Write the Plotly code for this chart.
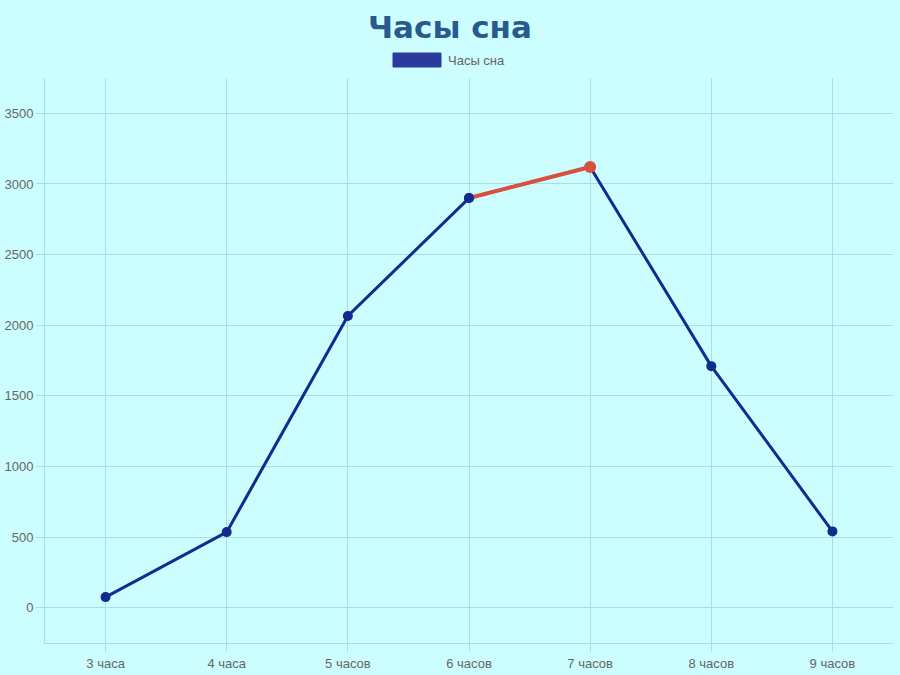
import plotly.graph_objects as go

categories = ["3 часа", "4 часа", "5 часов", "6 часов", "7 часов", "8 часов", "9 часов"]
values = [75, 535, 2065, 2900, 3120, 1710, 540]
highlight_from = 3  # segment 6 -> 7 highlighted
y_ticks = [0, 500, 1000, 1500, 2000, 2500, 3000, 3500]
title_text = "Часы сна"
series_name = "Часы сна"

bg = "#ccfdff"
grid = "#a9dfe3"
line_color = "#132a8f"
hl_color = "#d9503f"

fig = go.Figure()
fig.add_trace(go.Scatter(
    x=categories, y=values, mode="lines+markers", name=series_name,
    line=dict(color=line_color, width=3),
    marker=dict(color=line_color, size=10),
    showlegend=False,
))
fig.add_trace(go.Scatter(
    x=categories[highlight_from:highlight_from + 2],
    y=values[highlight_from:highlight_from + 2],
    mode="lines", line=dict(color=hl_color, width=4), showlegend=False,
))
fig.add_trace(go.Scatter(
    x=[categories[highlight_from]], y=[values[highlight_from]],
    mode="markers", marker=dict(color=line_color, size=10), showlegend=False,
))
fig.add_trace(go.Scatter(
    x=[categories[highlight_from + 1]], y=[values[highlight_from + 1]],
    mode="markers", marker=dict(color=hl_color, size=12), showlegend=False,
))

axis_font = dict(family="Liberation Sans, Arial", size=13, color="#666666")
fig.update_layout(
    width=900, height=675,
    paper_bgcolor=bg, plot_bgcolor=bg,
    margin=dict(l=45, r=7, t=78, b=32),
    title=dict(text="<b>" + title_text + "</b>", x=0.5, xanchor="center", y=0.96, yanchor="middle",
               font=dict(family="DejaVu Sans", size=31, color="#285a8c")),
    xaxis=dict(type="category", range=[-0.5, 6.5], showgrid=True, gridcolor=grid, gridwidth=1,
               ticks="outside", ticklen=8, tickcolor=grid, showline=True, linecolor=grid,
               tickfont=axis_font, zeroline=False, fixedrange=True, automargin=False),
    yaxis=dict(range=[-250, 3750], tickvals=y_ticks, showgrid=True, gridcolor=grid, gridwidth=1,
               ticks="outside", ticklen=8, tickcolor=grid, showline=True, linecolor=grid,
               tickfont=axis_font, zeroline=False, fixedrange=True, automargin=False),
    showlegend=False,
)
# legend drawn manually (Chart.js-like box swatch)
fig.add_shape(type="rect", xref="paper", yref="paper",
              x0=(393 - 45) / 848, x1=(441 - 45) / 848,
              y0=(643 - 67) / 565, y1=(643 - 53) / 565,
              fillcolor="#2b3a9e", line=dict(color="#2b3a9e", width=1))
fig.add_annotation(text=series_name, xref="paper", yref="paper",
                   x=(446 - 45) / 848, y=(643 - 60) / 565, xanchor="left", yanchor="middle",
                   showarrow=False, font=dict(family="Liberation Sans, Arial", size=13, color="#666666"))

fig.write_html("out.html", config={"displayModeBar": False},
               post_script="document.body.style.margin='0';document.body.style.overflow='hidden';")
